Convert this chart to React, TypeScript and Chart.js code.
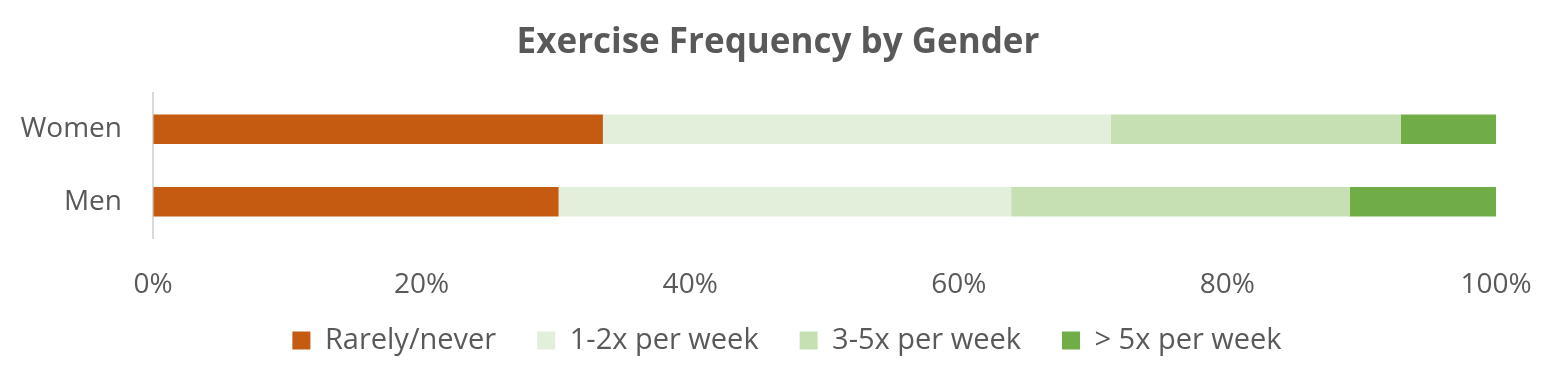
import React, { useEffect, useRef } from "react";
import { Chart, registerables } from "chart.js";

Chart.register(...registerables);

const categories = ["Women", "Men"];
const seriesNames = ["Rarely/never", "1-2x per week", "3-5x per week", "> 5x per week"];
const rarelyNever = [33.5, 30.2];
const oneTwoPerWeek = [37.8, 33.7];
const threeFivePerWeek = [21.6, 25.2];
const moreThanFive = [7.1, 10.9];
const seriesColors = ["#C55A11", "#E2EFDA", "#C6E0B4", "#70AD47"];
const xTickStep = 20;

const FONT = "'Open Sans', sans-serif";
const TEXT = "#595959";

const layoutTweak = {
  id: "layoutTweak",
  afterLayout(chart: any) {
    const lg = chart.legend;
    if (lg) {
      lg.top -= 13;
      lg.left = 18;
      lg.right = 1556;
    }
    const t = chart.titleBlock;
    if (t) {
      t.left = 0;
      t.right = 1556;
    }
  },
};

export default function App() {
  const ref = useRef<HTMLCanvasElement | null>(null);

  useEffect(() => {
    document.body.style.margin = "0";
    const values = [rarelyNever, oneTwoPerWeek, threeFivePerWeek, moreThanFive];
    const chart = new Chart(ref.current!, {
      type: "bar",
      data: {
        labels: categories,
        datasets: seriesNames.map((name, i) => ({
          label: name,
          data: values[i],
          backgroundColor: seriesColors[i],
          borderWidth: 0,
          categoryPercentage: 0.41,
          barPercentage: 1,
        })),
      },
      plugins: [layoutTweak],
      options: {
        indexAxis: "y",
        animation: false,
        responsive: false,
        maintainAspectRatio: false,
        layout: { padding: { left: 0, right: 60, top: 0, bottom: 15 } },
        plugins: {
          title: {
            display: true,
            text: "Exercise Frequency by Gender",
            color: TEXT,
            font: { family: FONT, size: 35, weight: "bold" },
            padding: { top: 22, bottom: 29 },
          },
          legend: {
            position: "bottom",
            maxHeight: 65,
            labels: {
              color: TEXT,
              font: { family: FONT, size: 29 },
              boxWidth: 18,
              boxHeight: 18,
              padding: 41,
            },
          },
          tooltip: { enabled: false },
        },
        scales: {
          x: {
            stacked: true,
            min: 0,
            max: 100,
            ticks: {
              stepSize: xTickStep,
              callback: (v: any) => v + "%",
              color: TEXT,
              font: { family: FONT, size: 28 },
              padding: 0,
              maxRotation: 0,
            },
            grid: {
              display: true,
              drawOnChartArea: false,
              drawTicks: true,
              tickLength: 30,
              color: "rgba(0,0,0,0)",
            },
            border: { display: false },
            afterFit: (s: any) => {
              s.height = 60;
            },
          },
          y: {
            stacked: true,
            ticks: {
              color: TEXT,
              font: { family: FONT, size: 28 },
              padding: 31,
            },
            grid: { display: false, drawTicks: false },
            border: { display: true, color: "#D9D9D9", width: 2 },
            afterFit: (s: any) => {
              s.width = 153;
            },
          },
        },
      },
    });
    return () => chart.destroy();
  }, []);

  return <canvas ref={ref} width={1556} height={378} style={{ display: "block" }} />;
}
